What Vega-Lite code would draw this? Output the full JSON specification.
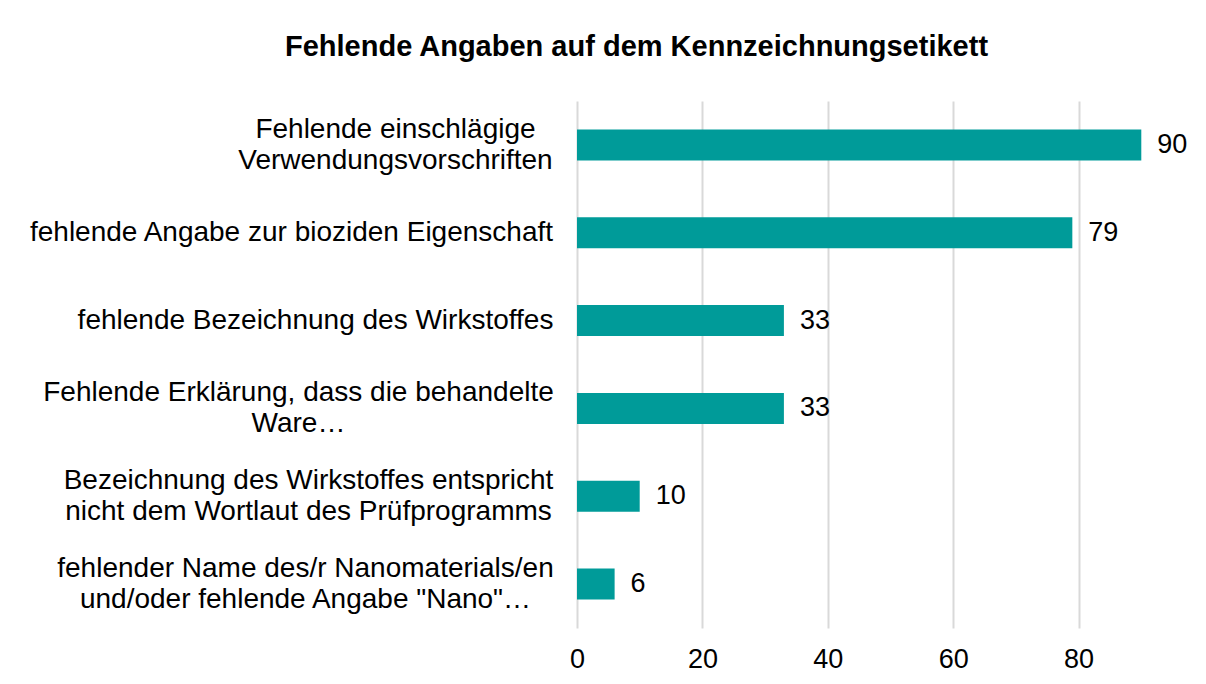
{
  "$schema": "https://vega.github.io/schema/vega-lite/v6.json",
  "autosize": "none",
  "width": 627,
  "height": 527,
  "padding": {"left": 577, "top": 101, "right": 2, "bottom": 56},
  "background": "#ffffff",
  "title": {
    "text": "Fehlende Angaben auf dem Kennzeichnungsetikett",
    "font": "Liberation Sans",
    "fontSize": 29,
    "fontWeight": "bold",
    "color": "#000000",
    "anchor": "middle",
    "baseline": "alphabetic",
    "offset": 16,
    "dx": -254
  },
  "data": {
    "values": [
      {"kategorie": "Fehlende einschlägige|Verwendungsvorschriften", "anzahl": 90},
      {"kategorie": "fehlende Angabe zur bioziden Eigenschaft", "anzahl": 79},
      {"kategorie": "fehlende Bezeichnung des Wirkstoffes", "anzahl": 33},
      {"kategorie": "Fehlende Erklärung, dass die behandelte|Ware…", "anzahl": 33},
      {"kategorie": "Bezeichnung des Wirkstoffes entspricht|nicht dem Wortlaut des Prüfprogramms", "anzahl": 10},
      {"kategorie": "fehlender Name des/r Nanomaterials/en|und/oder fehlende Angabe \"Nano\"…", "anzahl": 6}
    ]
  },
  "encoding": {
    "y": {
      "field": "kategorie",
      "type": "nominal",
      "sort": null,
      "title": null,
      "scale": {"paddingInner": 0.647, "paddingOuter": 0.3235},
      "axis": {
        "domain": false,
        "ticks": false,
        "grid": false,
        "labelExpr": "split(datum.label, '|')",
        "labelFont": "Liberation Sans",
        "labelFontSize": 28,
        "labelColor": "#000000",
        "labelLimit": 600,
        "labelLineHeight": 31,
        "labelAlign": "center",
        "labelBaseline": "middle",
        "labelOffset": {
          "condition": {"test": "indexof(datum.value, '|') >= 0", "value": -15},
          "value": 0
        },
        "labelPadding": {
          "condition": [
            {"test": "indexof(datum.value, 'Verwendungsvorschriften') >= 0", "value": 182},
            {"test": "indexof(datum.value, 'bioziden') >= 0", "value": 286},
            {"test": "indexof(datum.value, 'fehlende Bezeichnung') >= 0", "value": 262},
            {"test": "indexof(datum.value, 'Ware') >= 0", "value": 279},
            {"test": "indexof(datum.value, 'Prüfprogramms') >= 0", "value": 269}
          ],
          "value": 272
        }
      }
    },
    "x": {
      "field": "anzahl",
      "type": "quantitative",
      "title": null,
      "scale": {"domain": [0, 100], "nice": false},
      "axis": {
        "values": [0, 20, 40, 60, 80],
        "domain": false,
        "ticks": false,
        "grid": true,
        "gridColor": "#d9d9d9",
        "gridWidth": 2,
        "labelFont": "Liberation Sans",
        "labelFontSize": 27,
        "labelColor": "#000000",
        "labelPadding": 18,
        "labelFlush": false
      }
    }
  },
  "layer": [
    {"mark": {"type": "bar", "color": "#009b99"}},
    {
      "mark": {"type": "text", "align": "left", "baseline": "middle", "dx": 16, "font": "Liberation Sans", "fontSize": 27, "color": "#000000"},
      "encoding": {"text": {"field": "anzahl", "type": "quantitative"}}
    }
  ],
  "config": {"view": {"stroke": null}}
}
